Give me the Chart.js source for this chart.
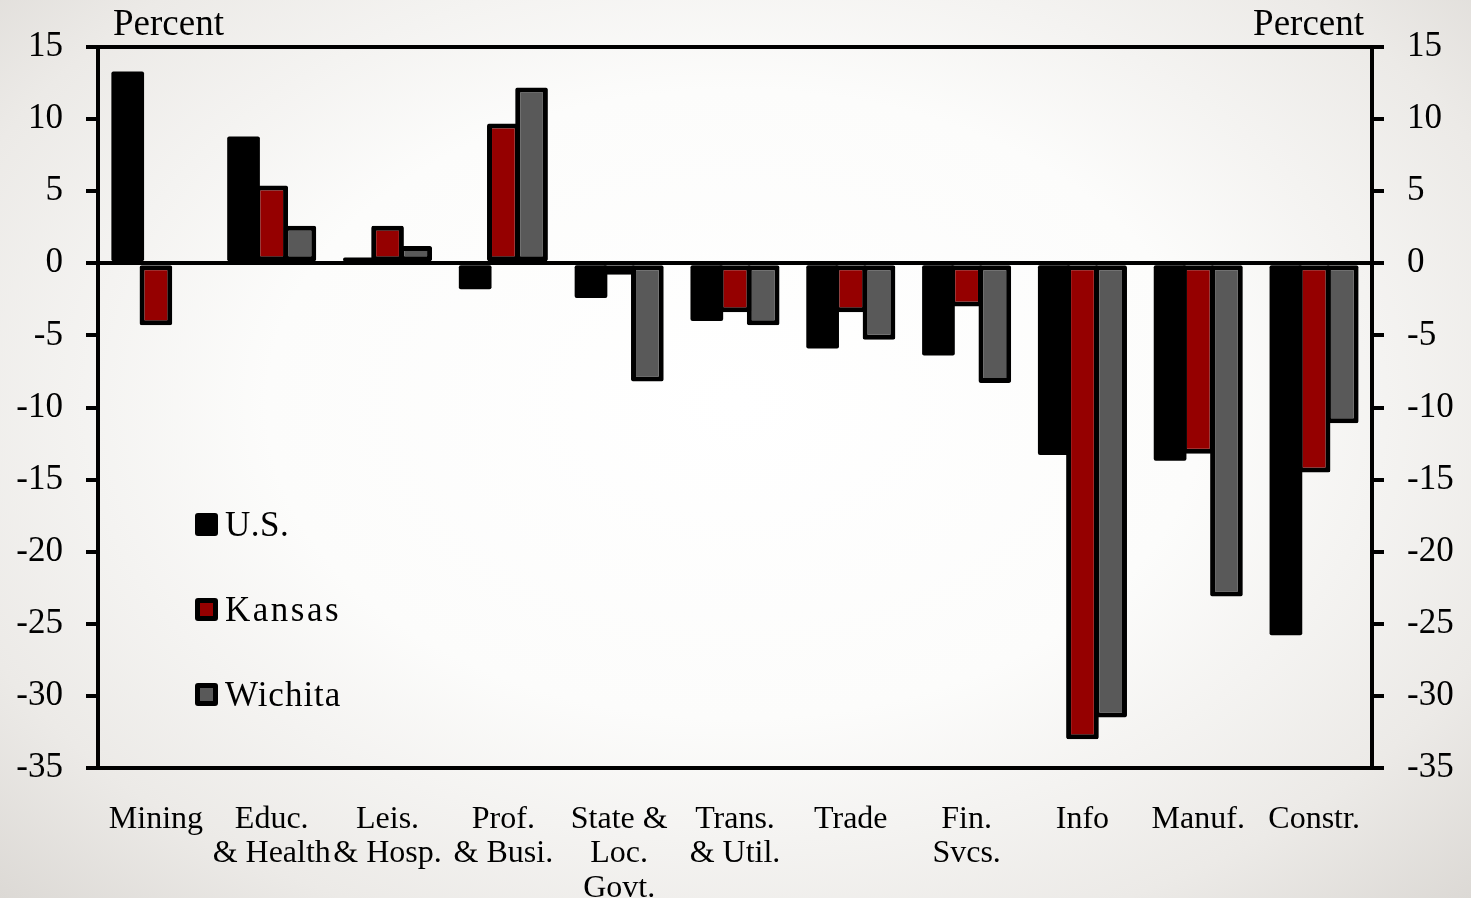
<!DOCTYPE html>
<html>
<head>
<meta charset="utf-8">
<title>Employment change by industry</title>
<script src="https://cdn.jsdelivr.net/npm/chart.js@4.4.1/dist/chart.umd.min.js"></script>
<style>
  html, body {
    margin: 0;
    padding: 0;
    width: 1471px;
    height: 898px;
    overflow: hidden;
    background: radial-gradient(ellipse at 50% 45%, #ffffff 0%, #fcfcfb 45%, #eceae7 80%, #dcd9d5 100%);
  }
  .chart-wrap {
    position: relative;
    width: 1471px;
    height: 898px;
  }
</style>
</head>
<body>
<div class="chart-wrap">
  <canvas id="chart"></canvas>
</div>
<script>
  // data (percent)
  const categories = [
    'Mining',
    ['Educ.', '& Health'],
    ['Leis.', '& Hosp.'],
    ['Prof.', '& Busi.'],
    ['State &', 'Loc.', 'Govt.'],
    ['Trans.', '& Util.'],
    'Trade',
    ['Fin.', 'Svcs.'],
    'Info',
    'Manuf.',
    'Constr.'
  ];
  const usValues      = [13.3, 8.8, 0.4, -1.8, -2.4, -4.0, -5.9, -6.4, -13.3, -13.7, -25.8];
  const kansasValues  = [-4.3, 5.4, 2.6, 9.7, -0.8, -3.4, -3.4, -3.0, -33.0, -13.2, -14.5];
  const wichitaValues = [null, 2.6, 1.2, 12.2, -8.2, -4.3, -5.3, -8.3, -31.5, -23.1, -11.1];
  const yTicks = [15, 10, 5, 0, -5, -10, -15, -20, -25, -30, -35];

  const FONT = "'Liberation Serif', 'Times New Roman', serif";


  /*
  * =============================================
  * PLUGINS :: start
  * ============================================= */
  /**
   * @name percentLabels - "Percent" above both axes
   */
  const percentLabels = {
    id: 'percentLabels',
    afterDraw(chart) {
      const {ctx, chartArea} = chart;
      ctx.save();
      ctx.font = '37px ' + FONT;
      ctx.fillStyle = '#000';
      ctx.textBaseline = 'alphabetic';
      ctx.textAlign = 'left';
      ctx.fillText('Percent', chartArea.left + 15, 35);
      ctx.textAlign = 'right';
      ctx.fillText('Percent', chartArea.right - 8, 35);
      ctx.restore();
    }
  };

  /**
   * @name insideLegend - stacked legend in the lower left of the plot
   */
  const insideLegend = {
    id: 'insideLegend',
    afterDatasetsDraw(chart) {
      const {ctx} = chart;
      const rows = [525, 610, 695];
      const spacing = ['0.5px', '2.5px', '1px'];

      ctx.save();
      chart.data.datasets.forEach((ds, i) => {
        const y = rows[i];
        ctx.beginPath();
        ctx.roundRect(195, y - 12, 23, 23, 3);
        ctx.fillStyle = '#000';
        ctx.fill();
        ctx.beginPath();
        ctx.rect(200, y - 7, 13, 13);
        ctx.fillStyle = ds.backgroundColor;
        ctx.fill();

        ctx.font = '35px ' + FONT;
        ctx.fillStyle = '#000';
        ctx.textAlign = 'left';
        ctx.textBaseline = 'middle';
        ctx.letterSpacing = spacing[i];
        ctx.fillText(ds.label, 225, y + 2);
      });
      ctx.restore();
    }
  };
  /*
  * PLUGINS :: end
  * ============================================= */


  const barStyle = {
    borderColor: '#000',
    borderWidth: 5,
    borderSkipped: false,
    borderRadius: 2,
    barPercentage: 1.16,
    categoryPercentage: 0.73
  };

  const yAxis = (position, width) => ({
    position: position,
    min: -35,
    max: 15,
    afterBuildTicks: (scale) => {
      scale.ticks = yTicks.map((v) => ({value: v}));
    },
    afterFit: (scale) => {
      scale.width = width;
    },
    border: {
      display: true,
      color: '#000',
      width: 4
    },
    grid: {
      drawOnChartArea: position === 'left',
      color: (ctx) => (ctx.tick && (ctx.tick.value === 0 || ctx.tick.value === 15)) ? '#000' : 'rgba(0,0,0,0)',
      lineWidth: 4,
      drawTicks: true,
      tickLength: 12,
      tickWidth: 4,
      tickColor: '#000'
    },
    ticks: {
      color: '#000',
      padding: 23,
      font: {family: FONT, size: 35}
    }
  });

  const initChart = () => {
    const canvas = document.getElementById('chart');

    new Chart(canvas, {
      type: 'bar',
      data: {
        labels: categories,
        datasets: [
          // solid black bars, so no separate outline
          Object.assign({label: 'U.S.', data: usValues, backgroundColor: '#000000'}, barStyle, {borderWidth: 0}),
          Object.assign({label: 'Kansas', data: kansasValues, backgroundColor: '#950000'}, barStyle),
          Object.assign({label: 'Wichita', data: wichitaValues, backgroundColor: '#595959'}, barStyle)
        ]
      },
      options: {
        responsive: true,
        maintainAspectRatio: false,
        animation: false,
        layout: {
          padding: {top: 47, left: 0, right: 0, bottom: 0}
        },
        plugins: {
          legend: {display: false},
          tooltip: {enabled: false}
        },
        scales: {
          x: {
            afterFit: (scale) => {
              scale.height = 130;
            },
            border: {
              display: true,
              color: '#000',
              width: 4
            },
            grid: {
              display: false
            },
            ticks: {
              color: '#000',
              padding: 26,
              maxRotation: 0,
              autoSkip: false,
              font: {family: FONT, size: 32, lineHeight: 1.08}
            }
          },
          y: yAxis('left', 98),
          y2: yAxis('right', 99)
        }
      },
      plugins: [percentLabels, insideLegend]
    });
  };

  initChart();
</script>
</body>
</html>
